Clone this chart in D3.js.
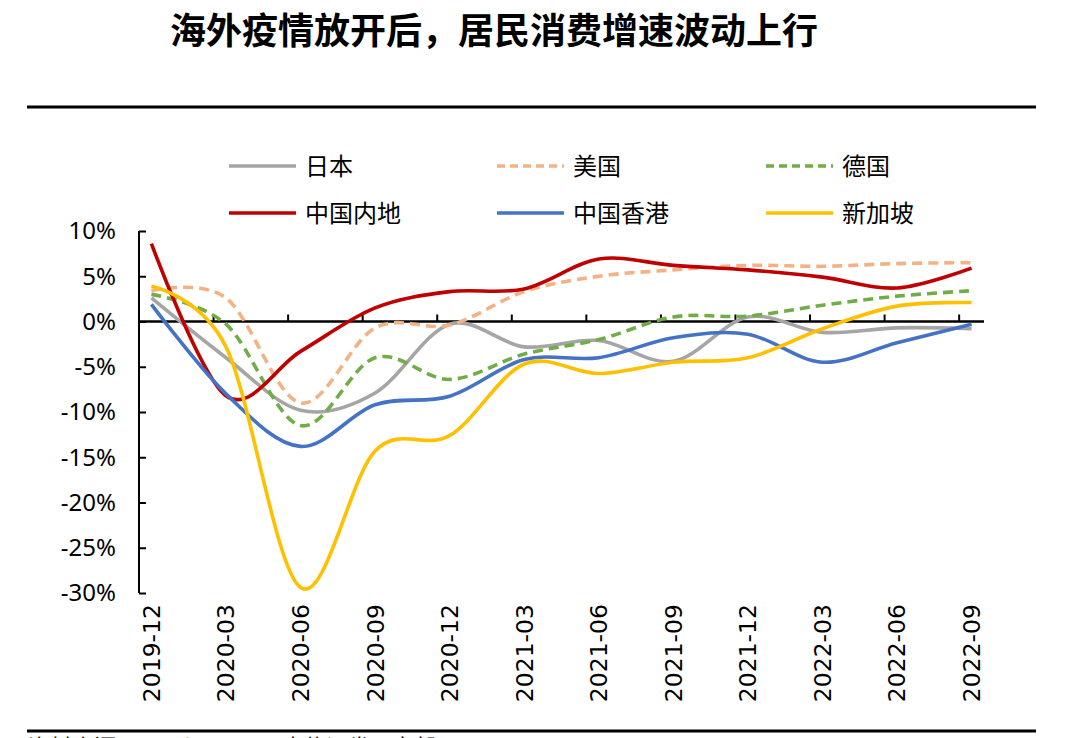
<!DOCTYPE html>
<html><head><meta charset="utf-8">
<script src="https://cdn.jsdelivr.net/npm/d3@7/dist/d3.min.js"></script>
<style>
html,body{margin:0;padding:0;background:#fff;}
svg{display:block;}
</style></head>
<body>
<svg id="chart" width="1065" height="738"></svg>
<script>
// ---- data ----
const months = ["2019-12","2020-01","2020-02","2020-03","2020-04","2020-05","2020-06","2020-07","2020-08","2020-09","2020-10","2020-11","2020-12","2021-01","2021-02","2021-03","2021-04","2021-05","2021-06","2021-07","2021-08","2021-09","2021-10","2021-11","2021-12","2022-01","2022-02","2022-03","2022-04","2022-05","2022-06","2022-07","2022-08","2022-09"];
const quarters = ["2019-12","2020-03","2020-06","2020-09","2020-12","2021-03","2021-06","2021-09","2021-12","2022-03","2022-06","2022-09"];
const japan    = [2.6, -4.0, -9.8, -7.9, -0.3, -2.8, -2.1, -4.4, 0.5, -1.2, -0.7, -0.8];
const usa      = [3.4, 2.6, -9.0, -0.7, -0.4, 3.3, 5.0, 5.7, 6.2, 6.1, 6.4, 6.5];
const germany  = [3.0, -0.3, -11.5, -4.0, -6.4, -3.6, -2.0, 0.5, 0.6, 1.8, 2.8, 3.4];
const mainland = [8.6, -8.2, -3.3, 1.5, 3.3, 3.6, 6.9, 6.2, 5.7, 4.9, 3.7, 5.9];
const hongkong = [1.9, -8.0, -13.8, -9.2, -8.25, -4.2, -4.0, -1.8, -1.4, -4.5, -2.35, -0.3];
const singapore= [3.9, -2.8, -29.4, -14.3, -12.6, -4.7, -5.75, -4.5, -4.0, -0.8, 1.7, 2.1];
const yTicks = [10, 5, 0, -5, -10, -15, -20, -25, -30];
const seriesNames = ["日本","美国","德国","中国内地","中国香港","新加坡"];
const title = "海外疫情放开后，居民消费增速波动上行";
const source = "资料来源：Wind，CEIC，中信证券研究部";

const seriesData = [japan, usa, germany, mainland, hongkong, singapore];
const colors = ["#A5A5A5","#F4B183","#70AD47","#C00000","#4472C4","#FFC000"];
const dashed = [false,true,true,false,false,false];

const svg = d3.select("#chart");
const cjk = "'Noto Sans CJK SC','Noto Sans',sans-serif";

// title
svg.append("text").attr("x",170).attr("y",44)
  .attr("font-family",cjk).attr("font-weight",700).attr("font-size",36)
  .attr("fill","#000").text(title);

// rules
svg.append("line").attr("x1",27).attr("x2",1036).attr("y1",107).attr("y2",107)
  .attr("stroke","#000").attr("stroke-width",3);
svg.append("line").attr("x1",27).attr("x2",1036).attr("y1",731).attr("y2",731)
  .attr("stroke","#000").attr("stroke-width",3);
svg.append("text").attr("x",28).attr("y",755).attr("font-family",cjk)
  .attr("font-size",22).attr("fill","#000").text(source);

// scales
const x = d3.scaleBand().domain(months).range([139, 984]).padding(0);
const cx = m => x(m) + x.bandwidth()/2;
const y = d3.scaleLinear().domain([-30, 10]).range([593, 231]);

// y axis
const yAxis = d3.axisRight(y).tickValues(yTicks).tickSize(7).tickFormat("");
const gy = svg.append("g").attr("transform","translate(139,0)").call(yAxis);
gy.select(".domain").attr("stroke","#000").attr("stroke-width",2).attr("d","M0,"+y(10)+"V"+y(-30));
gy.selectAll(".tick line").attr("stroke","#000").attr("stroke-width",2);
svg.append("g").selectAll("text").data(yTicks).join("text")
  .attr("x",116).attr("y",d=>y(d)).attr("dy","0.35em")
  .attr("text-anchor","end").attr("font-family","'Noto Sans',sans-serif")
  .attr("font-size",24).attr("fill","#000").text(d=>d+"%");

// x axis on zero line, inside ticks at band boundaries
const boundaries = months.filter((m,i)=> i%3===0);
svg.append("g").selectAll("line").data(boundaries.slice(1)).join("line")
  .attr("x1",d=>x(d)).attr("x2",d=>x(d)).attr("y1",y(0)).attr("y2",y(0)-7)
  .attr("stroke","#000").attr("stroke-width",2);
svg.append("line").attr("x1",139).attr("x2",984).attr("y1",y(0)).attr("y2",y(0))
  .attr("stroke","#000").attr("stroke-width",2.5);

// x labels
svg.append("g").selectAll("text").data(quarters).join("text")
  .attr("transform",d=>`translate(${cx(d)},604) rotate(-90)`)
  .attr("text-anchor","end").attr("dy","0.36em")
  .attr("font-family","'DejaVu Sans',sans-serif").attr("font-size",23.5)
  .attr("fill","#000").text(d=>d);

// lines
const line = d3.line().x(d=>cx(d.m)).y(d=>y(d.v)).curve(d3.curveCatmullRom.alpha(0));
seriesData.forEach((vals,i)=>{
  const pts = quarters.map((m,j)=>({m, v: vals[j]}));
  svg.append("path").datum(pts).attr("d",line)
    .attr("fill","none").attr("stroke",colors[i]).attr("stroke-width",3.6)
    .attr("stroke-dasharray",dashed[i]?"10,6":null)
    .attr("stroke-linejoin","round");
});

// legend
const legX = [229, 497, 766];
const legY = [166, 213];
seriesNames.forEach((n,i)=>{
  const lx = legX[i%3], ly = legY[Math.floor(i/3)];
  svg.append("line").attr("x1",lx).attr("x2",lx+67).attr("y1",ly).attr("y2",ly)
    .attr("stroke",colors[i]).attr("stroke-width",3.6)
    .attr("stroke-dasharray",dashed[i]?"8,5":null);
  svg.append("text").attr("x",lx+76).attr("y",ly).attr("dy","0.36em")
    .attr("font-family",cjk).attr("font-size",24).attr("fill","#000").text(n);
});
</script>
</body></html>
